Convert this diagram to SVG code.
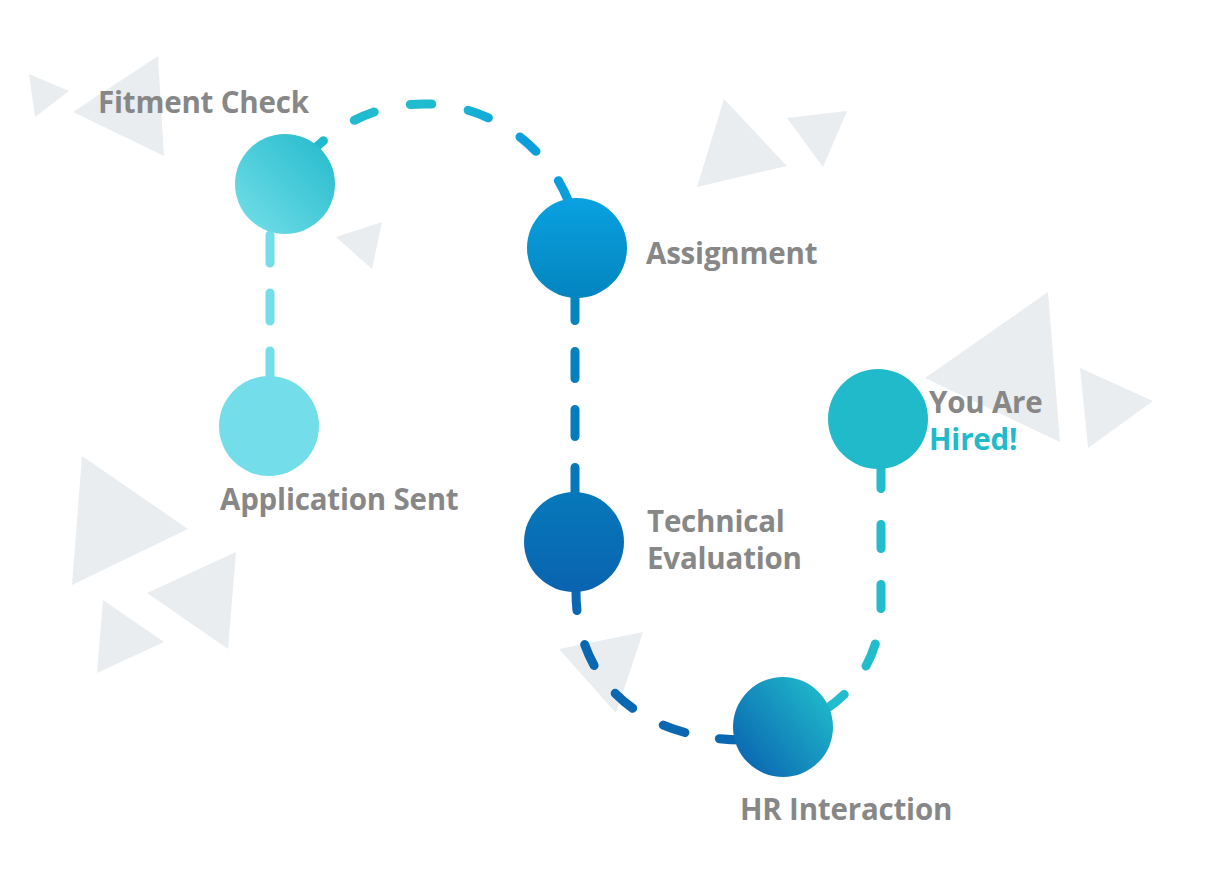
<svg xmlns="http://www.w3.org/2000/svg" width="1226" height="881" viewBox="0 0 1226 881">
<style>
.tri{fill:#eaedf0}
.lbl{font-family:"Open Sans","Liberation Sans",sans-serif;font-weight:700;font-size:29.5px;fill:#878787;letter-spacing:-0.2px}
.con{fill:none;stroke-width:9;stroke-linecap:round}
</style>
<defs>
<linearGradient id="gFit" x1="0" y1="1" x2="1" y2="0"><stop offset="0" stop-color="#76e0ea"/><stop offset="1" stop-color="#22b9cb"/></linearGradient>
<linearGradient id="gAsg" x1="0" y1="0" x2="0" y2="1"><stop offset="0" stop-color="#0aa1e0"/><stop offset="1" stop-color="#0385bf"/></linearGradient>
<linearGradient id="gTec" x1="0" y1="0" x2="0" y2="1"><stop offset="0" stop-color="#0679ba"/><stop offset="1" stop-color="#0a63b0"/></linearGradient>
<linearGradient id="gHR" x1="0" y1="1" x2="1" y2="0.2"><stop offset="0" stop-color="#085cae"/><stop offset="1" stop-color="#20bacb"/></linearGradient>
<linearGradient id="gArc" gradientUnits="userSpaceOnUse" x1="440" y1="0" x2="525" y2="0"><stop offset="0" stop-color="#20bbcf"/><stop offset="1" stop-color="#0a9edd"/></linearGradient>
<linearGradient id="gV2" gradientUnits="userSpaceOnUse" x1="0" y1="300" x2="0" y2="495"><stop offset="0" stop-color="#0386c0"/><stop offset="1" stop-color="#0576b9"/></linearGradient>
</defs>
<g id="background">
<polygon class="tri" points="29,74 69,91 35,117"/>
<polygon class="tri" points="158,56 73,112 164,156"/>
<polygon class="tri" points="382,222 336,237 372,269"/>
<polygon class="tri" points="724,99 787,166 697,187"/>
<polygon class="tri" points="787,118 847,111 823,167"/>
<polygon class="tri" points="559,649 643,632 616,713"/>
<polygon class="tri" points="1048,292 925,378 1060,442"/>
<polygon class="tri" points="1080,368 1153,401 1088,448"/>
<polygon class="tri" points="82,456 188,529 72,585"/>
<polygon class="tri" points="236,552 147,593 228,649"/>
<polygon class="tri" points="103,600 164,642 97,673"/>
</g>
<g id="connectors">
<path class="con" stroke="#73dde9" stroke-dasharray="28 30" d="M270,379 V232"/>
<path class="con" stroke="url(#gArc)" stroke-dasharray="21.5 37" d="M308,155.6 A156,156 0 0 1 574.7,219.6"/>
<path class="con" stroke="url(#gV2)" stroke-dasharray="27 31" d="M575,293.5 V500"/>
<path class="con" stroke="#0a67b1" stroke-dasharray="23 35" d="M576,587.5 L576,592 C576,680 640,740 745,740"/>
<path class="con" stroke="#22bccc" stroke-dasharray="24 36" d="M881,464.5 V605 C881,650 860,690 818,714"/>
</g>
<g id="node-fitment">
<circle cx="285" cy="184" r="50" fill="url(#gFit)"/>
<text class="lbl" x="98" y="113">Fitment Check</text>
</g>
<g id="node-application">
<circle cx="269" cy="426" r="50" fill="#73dee9"/>
<text class="lbl" x="220" y="510">Application Sent</text>
</g>
<g id="node-assignment">
<circle cx="577" cy="248" r="50" fill="url(#gAsg)"/>
<text class="lbl" x="646" y="264">Assignment</text>
</g>
<g id="node-technical">
<circle cx="574" cy="542" r="50" fill="url(#gTec)"/>
<text class="lbl" x="647" y="532">Technical</text>
<text class="lbl" x="647" y="569">Evaluation</text>
</g>
<g id="node-hr">
<circle cx="783" cy="727" r="50" fill="url(#gHR)"/>
<text class="lbl" x="740" y="820">HR Interaction</text>
</g>
<g id="node-hired">
<circle cx="878" cy="419" r="50" fill="#21bacb"/>
<text class="lbl" x="929" y="413">You Are</text>
<text class="lbl" x="929" y="450" style="fill:#21bacb">Hired!</text>
</g>
</svg>
